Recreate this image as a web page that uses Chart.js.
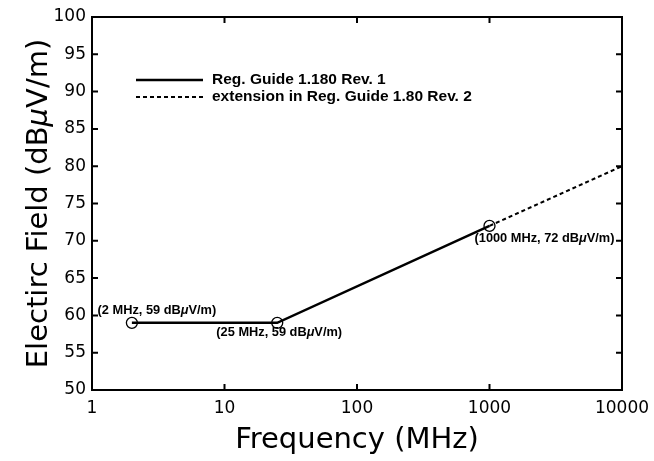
<!DOCTYPE html>
<html>
<head>
<meta charset="utf-8">
<script src="https://cdn.jsdelivr.net/npm/chart.js@4"></script>
<style>
  html, body { margin: 0; padding: 0; background: #fff; }
  #wrap { width: 654px; height: 461px; }
</style>
</head>
<body>
<div id="wrap"><canvas id="chart" width="654" height="461"></canvas></div>
<script>
// data
const guideFreq = [2, 25, 1000];
const guideField = [59, 59, 72];
const extFreq = [1000, 10000];
const extField = [72, 80];
const xTicks = [1, 10, 100, 1000, 10000];
const yMin = 50, yMax = 100, yStep = 5;
const seriesNames = ["Reg. Guide 1.180 Rev. 1", "extension in Reg. Guide 1.80 Rev. 2"];
const pointLabels = [
  ["(2 MHz, 59 dB", "μ", "V/m)"],
  ["(25 MHz, 59 dB", "μ", "V/m)"],
  ["(1000 MHz, 72 dB", "μ", "V/m)"],
];
// label offsets from their points (px)
const labelOffsets = [[25, -12], [2, 10], [55, 13]];

const BOLD = "bold 12.8px 'Liberation Sans', Arial, sans-serif";
const BOLD_IT = "italic bold 12.8px 'Liberation Sans', Arial, sans-serif";
const TITLE = "29px 'DejaVu Sans', Verdana, sans-serif";
const TITLE_IT = "italic 29px 'DejaVu Sans', Verdana, sans-serif";

function drawParts(ctx, x, y, parts) {
  // parts: [text, font]; x is centre
  let total = 0;
  parts.forEach(([t, f]) => { ctx.font = f; total += ctx.measureText(t).width; });
  let cx = x - total / 2;
  ctx.textAlign = "left";
  ctx.textBaseline = "middle";
  parts.forEach(([t, f]) => {
    ctx.font = f;
    ctx.fillText(t, cx, y);
    cx += ctx.measureText(t).width;
  });
}

const decorations = {
  id: "decorations",
  afterDraw(chart) {
    const { ctx, chartArea: a, scales } = chart;
    const xs = scales.x, ys = scales.y;
    ctx.save();
    ctx.strokeStyle = "#000";
    ctx.fillStyle = "#000";
    ctx.lineWidth = 2;
    ctx.strokeRect(a.left, a.top, a.right - a.left, a.bottom - a.top);
    // inward ticks
    ctx.beginPath();
    for (let v = yMin; v <= yMax; v += yStep) {
      const py = ys.getPixelForValue(v);
      ctx.moveTo(a.left, py); ctx.lineTo(a.left + 6, py);
      ctx.moveTo(a.right, py); ctx.lineTo(a.right - 6, py);
    }
    xTicks.forEach((v) => {
      const px = xs.getPixelForValue(v);
      ctx.moveTo(px, a.bottom); ctx.lineTo(px, a.bottom - 6);
      ctx.moveTo(px, a.top); ctx.lineTo(px, a.top + 6);
    });
    ctx.stroke();

    // point labels
    guideFreq.forEach((f, i) => {
      const px = xs.getPixelForValue(f);
      const py = ys.getPixelForValue(guideField[i]);
      const [a1, mu, a2] = pointLabels[i];
      drawParts(ctx, px + labelOffsets[i][0], py + labelOffsets[i][1],
        [[a1, BOLD], [mu, BOLD_IT], [a2, BOLD]]);
    });

    // legend
    const ds = chart.data.datasets;
    const rows = [80, 97];
    ds.forEach((d, i) => {
      ctx.beginPath();
      ctx.lineWidth = d.borderWidth;
      ctx.setLineDash(d.borderDash || []);
      ctx.moveTo(136, rows[i]); ctx.lineTo(203, rows[i]);
      ctx.stroke();
      ctx.setLineDash([]);
      ctx.font = "bold 15.5px 'Liberation Sans', Arial, sans-serif";
      ctx.textAlign = "left";
      ctx.textBaseline = "middle";
      ctx.fillText(d.label, 212, rows[i]);
    });

    // axis titles
    drawParts(ctx, (a.left + a.right) / 2, 440, [["Frequency (MHz)", TITLE]]);
    ctx.translate(39, (a.top + a.bottom) / 2);
    ctx.rotate(-Math.PI / 2);
    drawParts(ctx, 0, 0, [["Electirc Field (dB", TITLE], ["μ", TITLE_IT], ["V/m)", TITLE]]);
    ctx.restore();
  },
};

new Chart(document.getElementById("chart").getContext("2d"), {
  type: "line",
  data: {
    datasets: [
      {
        label: seriesNames[0],
        data: guideFreq.map((f, i) => ({ x: f, y: guideField[i] })),
        borderColor: "#000",
        borderWidth: 2.5,
        pointRadius: 5.5,
        pointBorderWidth: 1.3,
        pointBackgroundColor: "rgba(0,0,0,0)",
        pointBorderColor: "#000",
      },
      {
        label: seriesNames[1],
        data: extFreq.map((f, i) => ({ x: f, y: extField[i] })),
        borderColor: "#000",
        borderWidth: 2,
        borderDash: [4, 3],
        pointRadius: 0,
      },
    ],
  },
  options: {
    responsive: false,
    animation: false,
    layout: { padding: { left: 0, top: 17, right: 32, bottom: 0 } },
    plugins: { legend: { display: false }, tooltip: { enabled: false } },
    scales: {
      x: {
        type: "logarithmic",
        min: 1,
        max: 10000,
        afterBuildTicks: (s) => { s.ticks = xTicks.map((v) => ({ value: v })); },
        afterFit: (s) => { s.height = 71; s.paddingLeft = 0; s.paddingRight = 0; },
        grid: { display: false, drawTicks: false },
        border: { display: false },
        ticks: {
          color: "#000",
          padding: 8,
          maxRotation: 0,
          font: { family: "'DejaVu Sans', Verdana, sans-serif", size: 17 },
          callback: (v) => String(v),
        },
      },
      y: {
        min: yMin,
        max: yMax,
        afterFit: (s) => { s.width = 92; s.paddingTop = 0; s.paddingBottom = 0; },
        grid: { display: false, drawTicks: false },
        border: { display: false },
        ticks: {
          color: "#000",
          stepSize: yStep,
          padding: 6,
          font: { family: "'DejaVu Sans', Verdana, sans-serif", size: 17 },
        },
      },
    },
  },
  plugins: [decorations],
});
</script>
</body>
</html>
